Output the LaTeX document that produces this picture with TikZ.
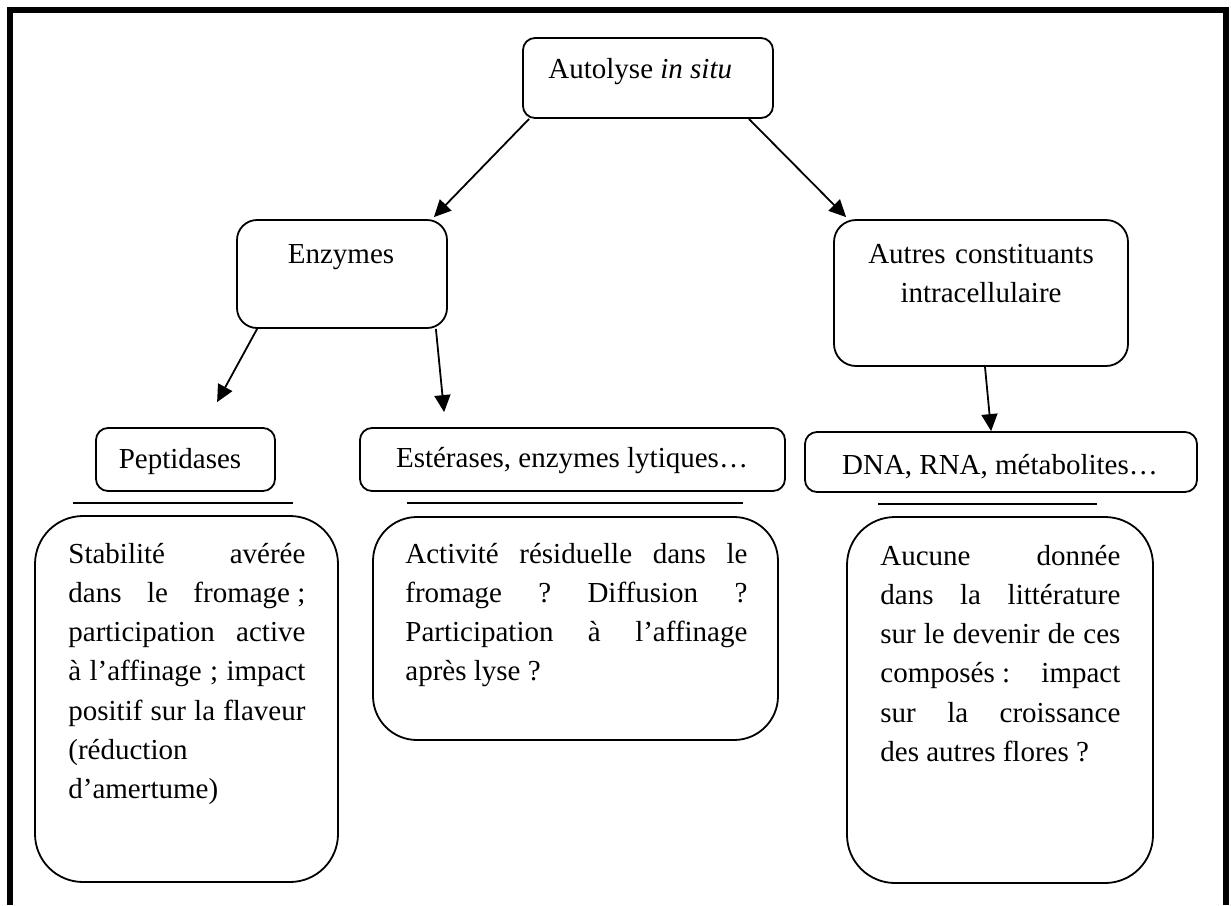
\documentclass[tikz,border=0pt]{standalone}
\usepackage{fontspec}
\setmainfont{Liberation Serif}
\usetikzlibrary{arrows.meta,calc,fit}

% one justified line / one left line of a note
\newlength\notew
\newcommand\fullline[1]{\hbox to \notew{\frenchspacing\spaceskip=0.25em plus 1fill\relax #1}}
\newcommand\shortline[1]{\hbox{#1}}
\newcommand\nbs{\kern0.25em}

\begin{document}
\begin{tikzpicture}[
    x=0.5pt,
    y=-0.5pt,
    font=\fontsize{14.5pt}{19.65pt}\selectfont,
    box/.style={draw=black, rounded corners=#1, line width=0.9pt, inner sep=0pt},
    boxtext/.style={inner sep=0pt, anchor=base},
    note/.style={inner sep=0pt, anchor=base west},
    link/.style={line width=0.9pt, -{Triangle[length=8.5pt, width=8pt]}},
    rulebar/.style={line width=0.9pt}
]

\path[use as bounding box] (0,0) rectangle (1231,905);

% Outer frame, open at the bottom.
\draw[line width=3pt] (10,905) -- (10,10) -- (1226,10) -- (1226,905);

% Top of the tree.
\node[box=6pt, fit={(523,38) (773,118)}] (autolyse) {};
\node[boxtext, anchor=base west] (autolysetext) at (548,78) {Autolyse \textit{in situ}};

% Second level.
\node[box=10pt, fit={(237,220) (447,328)}] (enzymes) {};
\node[boxtext] (enzymestext) at (341,263) {Enzymes};

\node[box=11pt, fit={(834,220) (1128,366)}] (autres) {};
\node[boxtext, text width=160pt, align=center] (autrestext) at (981,263)
    {Autres constituants\\intracellulaire};

% Third level.
\node[box=6pt, fit={(96,428) (275,491)}] (peptidases) {};
\node[boxtext] (peptidasestext) at (180,468) {Peptidases};

\node[box=6pt, fit={(360,428) (785,491)}] (esterases) {};
\node[boxtext] (esterasestext) at (572,467) {Estérases, enzymes lytiques…};

\node[box=6pt, fit={(805,432) (1197,492)}] (dna) {};
\node[boxtext] (dnatext) at (1000,474) {DNA, RNA, métabolites…};

% Arrows between the boxes.
\draw[link] ($(autolyse.south west)+(7,0)$) -- ($(enzymes.north east)+(-14,-2)$);
\draw[link] ($(autolyse.south east)+(-25,0)$) -- ($(autres.north west)+(13,-2)$);
\draw[link] ($(enzymes.south west)+(21,0)$) -- ($(peptidases.north west)+(122,-25)$);
\draw[link] ($(enzymes.south east)+(-12,0)$) -- ($(esterases.north west)+(85,-15)$);
\draw[link] ($(autres.south)+(4,0)$) -- ($(dna.north west)+(187,0)$);

% Separator lines.
\draw[rulebar] (73,503) -- (293,503);
\draw[rulebar] (407,503) -- (743,503);
\draw[rulebar] (878,504) -- (1097,504);

% Notes.
\node[box=24pt, fit={(35,516) (338,882)}] (peptidasesbox) {};
\setlength\notew{118.5pt}
\node[note] (peptidasesnote) at (68,563) {\vtop{%
    \fullline{Stabilité avérée}
    \fullline{dans le fromage\nbs;}
    \fullline{participation active}
    \fullline{à l’affinage ; impact}
    \fullline{positif sur la flaveur}
    \shortline{(réduction}
    \shortline{d’amertume)}}};

\node[box=22pt, fit={(373,517) (778,740)}] (esterasesbox) {};
\setlength\notew{171pt}
\node[note] (esterasesnote) at (405,563) {\vtop{%
    \fullline{Activité résiduelle dans le}
    \fullline{fromage ? Diffusion ?}
    \fullline{Participation à l’affinage}
    \shortline{après lyse ?}}};

\node[box=24pt, fit={(847,517) (1153,883)}] (dnabox) {};
\setlength\notew{120pt}
\node[note] (dnanote) at (880,565) {\vtop{%
    \fullline{Aucune donnée}
    \fullline{dans la littérature}
    \fullline{sur le devenir de ces}
    \fullline{composés\nbs: impact}
    \fullline{sur la croissance}
    \shortline{des autres flores ?}}};

\end{tikzpicture}
\end{document}
